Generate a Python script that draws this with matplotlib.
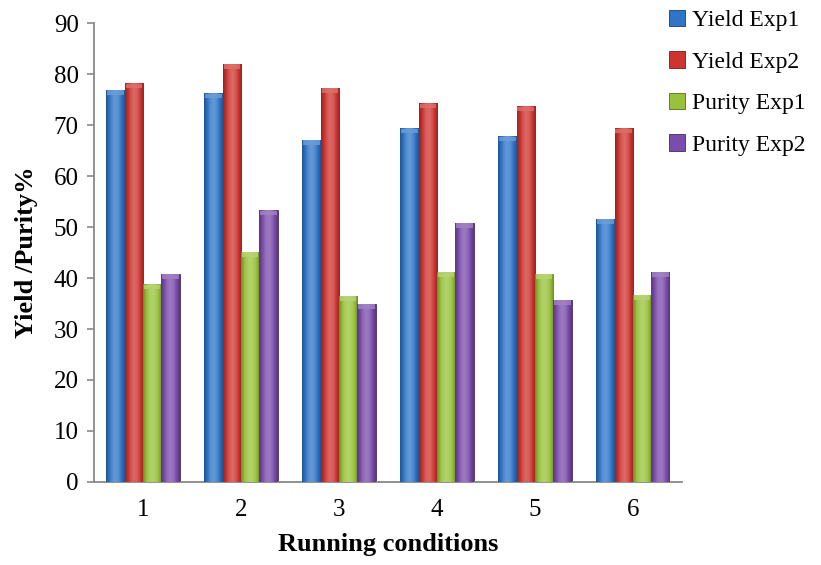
import numpy as np
import matplotlib
matplotlib.use("Agg")
import matplotlib.pyplot as plt
from matplotlib.colors import to_rgb

plt.rcParams['font.family'] = ['Liberation Serif', 'DejaVu Serif']

conditions = ['1', '2', '3', '4', '5', '6']
yield_exp1 = [76.9, 76.3, 67.1, 69.4, 67.8, 51.6]
yield_exp2 = [78.2, 82.0, 77.3, 74.3, 73.7, 69.4]
purity_exp1 = [38.8, 45.2, 36.5, 41.2, 40.8, 36.7]
purity_exp2 = [40.8, 53.3, 35.0, 50.8, 35.7, 41.2]

series = [yield_exp1, yield_exp2, purity_exp1, purity_exp2]
names = ['Yield Exp1', 'Yield Exp2', 'Purity Exp1', 'Purity Exp2']
colors = ['#2f74c6', '#cc3430', '#98c23c', '#7a4cab']


def shade(c, f):
    r = np.array(to_rgb(c))
    if f >= 0:
        return tuple(r + (1 - r) * f)
    return tuple(r * (1 + f))


fig = plt.figure(figsize=(8.21, 5.65), dpi=100)
ax = fig.add_axes([0.1145, 0.147, 0.716, 0.812])

x = np.arange(len(conditions))
w = 0.187
for i, (vals, name, col) in enumerate(zip(series, names, colors)):
    pos = x + (i - 1.5) * w
    bars = ax.bar(pos, vals, w, color=col, label=name, edgecolor=shade(col, -0.45),
                  linewidth=0.6, zorder=2)
    # cylinder-like horizontal shading on each bar
    grad = np.linspace(-1, 1, 40)
    prof = 0.25 * np.cos(grad * np.pi / 2) ** 2 - 0.28 * np.abs(grad) ** 3
    img = np.array([[shade(col, p) for p in prof]])
    for b in bars:
        bx, by = b.get_x(), b.get_y()
        bw, bh = b.get_width(), b.get_height()
        im = ax.imshow(img, extent=[bx, bx + bw, by, by + bh], aspect='auto',
                       interpolation='bicubic', zorder=3)
        im.set_clip_path(b)
        # lighter cap at the top of each bar
        ax.bar(bx + bw / 2, 0.9, bw * 0.9, bottom=by + bh - 1.0,
               color=shade(col, 0.3), linewidth=0, zorder=4, alpha=0.8)

ax.set_xlim(-0.5, 5.5)
ax.set_ylim(0, 90)
ax.set_yticks(range(0, 91, 10))
ax.set_xticks(x)
ax.set_xticklabels(conditions)
ax.tick_params(axis='x', length=0, labelsize=18, pad=12)
ax.tick_params(axis='y', length=5, width=1.2, color='#888888', labelsize=18, pad=6)
for s in ['top', 'right']:
    ax.spines[s].set_visible(False)
for s in ['left', 'bottom']:
    ax.spines[s].set_color('#888888')
    ax.spines[s].set_linewidth(1.3)

ax.set_xlabel('Running conditions', fontsize=19, fontweight='bold', labelpad=9)
ax.set_ylabel('Yield /Purity%', fontsize=19, fontweight='bold', labelpad=11)

fig.legend(loc='upper left', bbox_to_anchor=(0.797, 1.008), frameon=False,
           fontsize=17, handlelength=0.7, handleheight=0.7, handletextpad=0.3,
           labelspacing=0.85, borderaxespad=0.2)

fig.savefig('out.png', dpi=100)
